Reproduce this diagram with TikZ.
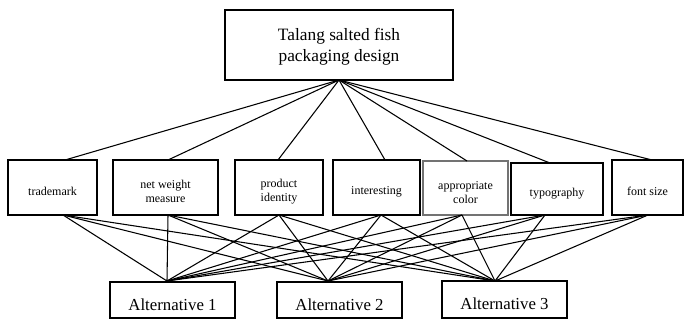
\documentclass[tikz,border=0pt]{standalone}
\usepackage{fontspec}
\setmainfont{Liberation Serif}
\usetikzlibrary{fit}
\newcommand{\fcrit}{\fontsize{9}{10.5}\selectfont}
\newcommand{\falt}{\fontsize{12.6}{14}\selectfont}
\newcommand{\fgoal}{\fontsize{13}{16}\selectfont}
\begin{document}
\begin{tikzpicture}[x=0.75pt,y=-0.75pt,
  box/.style={draw, line width=1.05pt, inner sep=0pt},
  txt/.style n args={2}{label={[align=center, inner sep=0pt, yshift=-3.2pt, font=#1]center:#2}},
  gtxt/.style={label={[align=center, inner sep=0pt, yshift=-1.2pt, font=\fgoal]center:#1}},
  link/.style={line width=0.8pt}]
\useasboundingbox (0,0) rectangle (685,320);
% goal
\node[box, fit={(225,10) (453,80)}, gtxt={Talang salted fish\\packaging design}] (goal) {};
\coordinate (g) at (339,80);
% criteria
\node[box, fit={(8,160) (97,215)}, txt={\fcrit}{trademark}] (c1) {};
\node[box, fit={(113,160) (218,215)}, txt={\fcrit}{net weight\\measure}] (c2) {};
\node[box, fit={(235,160) (323,215)}, txt={\fcrit}{product\\identity}] (c3) {};
\node[box, fit={(333,160) (420,215)}, txt={\fcrit}{interesting}] (c4) {};
\node[box, draw=black!55, fit={(423,161) (508,215)}, txt={\fcrit}{appropriate\\color}] (c5) {};
\node[box, fit={(511,163) (603,215)}, txt={\fcrit}{typography}] (c6) {};
\node[box, fit={(612,160) (683,215)}, txt={\fcrit}{font size}] (c7) {};
% alternatives
\node[box, fit={(110,282) (235,318)}, txt={\falt}{Alternative 1}] (a1) {};
\node[box, fit={(277,282) (402,318)}, txt={\falt}{Alternative 2}] (a2) {};
\node[box, fit={(442,281) (567,318)}, txt={\falt}{Alternative 3}] (a3) {};
% connection points
\coordinate (t1) at (65,160);  \coordinate (b1) at (63,215);
\coordinate (t2) at (168,160); \coordinate (b2) at (168,215);
\coordinate (t3) at (278,160); \coordinate (b3) at (279,215);
\coordinate (t4) at (385,160); \coordinate (b4) at (381,215);
\coordinate (t5) at (467,161); \coordinate (b5) at (462,215);
\coordinate (t6) at (550,163); \coordinate (b6) at (545,215);
\coordinate (t7) at (652,160); \coordinate (b7) at (648,215);
\coordinate (p1) at (167,281);
\coordinate (p2) at (328,281);
\coordinate (p3) at (495,281);
\foreach \i in {1,...,7}{
  \draw[link] (g) -- (t\i);
  \foreach \j in {1,2,3}{
    \draw[link] (b\i) -- (p\j);
  }
}
\end{tikzpicture}
\end{document}
